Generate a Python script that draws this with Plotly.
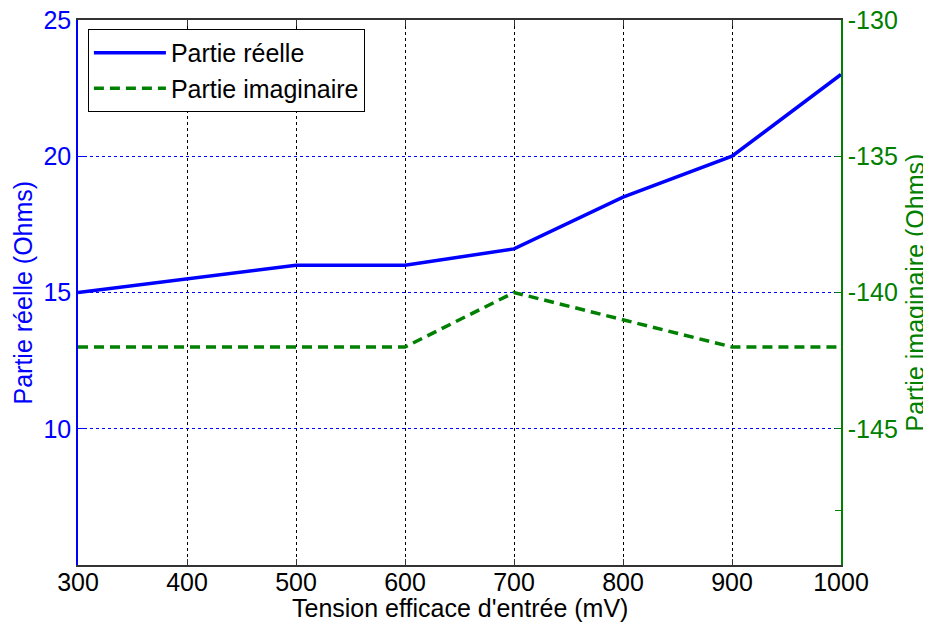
import plotly.graph_objects as go

tension_mv = [300, 400, 500, 600, 700, 800, 900, 1000]
partie_reelle = [15, 15.5, 16, 16, 16.6, 18.5, 20, 23]
partie_imaginaire = [-142, -142, -142, -142, -140, -141, -142, -142]

x_ticks = [300, 400, 500, 600, 700, 800, 900, 1000]
y1_ticks = [10, 15, 20, 25]
y2_ticks = [-148, -145, -140, -135, -130]
y2_ticktext = ["", "-145", "-140", "-135", "-130"]

x_title = "Tension efficace d'entrée (mV)"
y1_title = "Partie réelle (Ohms)"
y2_title = "Partie imaginaire (Ohms)"

FONT = "Liberation Sans, Arial, sans-serif"
BLUE = "#0000ff"
GREEN = "#008000"
FS = 25

fig = go.Figure()
fig.add_trace(go.Scatter(x=tension_mv, y=partie_reelle, mode="lines", name="Partie réelle",
                         line=dict(color=BLUE, width=3.5)))
fig.add_trace(go.Scatter(x=tension_mv, y=partie_imaginaire, mode="lines", name="Partie imaginaire",
                         yaxis="y2", line=dict(color=GREEN, width=3.5, dash="10px,6px")))

fig.update_layout(
    width=923, height=617,
    margin=dict(l=70, r=90, t=12, b=60),
    paper_bgcolor="white", plot_bgcolor="white",
    font=dict(family=FONT, size=FS, color="black"),
    xaxis=dict(range=[300, 1000], tickvals=x_ticks, ticks="inside", ticklen=6, tickcolor="#333",
               showline=True, linecolor="#333", linewidth=1.5, mirror="ticks",
               showgrid=True, gridcolor="black", griddash="3px,3px", gridwidth=1,
               zeroline=False, tickfont=dict(size=FS), automargin=False, ticklabelstandoff=-6,
               ticklabeloverflow="allow"),
    yaxis=dict(range=[5, 25], tickvals=y1_ticks, ticks="inside", ticklen=6, tickcolor=BLUE,
               showline=True, linecolor=BLUE, linewidth=1.5,
               showgrid=True, gridcolor=BLUE, griddash="3px,3px", gridwidth=1,
               zeroline=False, tickfont=dict(size=FS, color=BLUE), automargin=False,
               ticklabeloverflow="allow"),
    yaxis2=dict(range=[-150, -130], tickvals=y2_ticks, ticktext=y2_ticktext, overlaying="y", side="right",
                ticks="inside", ticklen=6, tickcolor=GREEN,
                showline=True, linecolor=GREEN, linewidth=1.5, showgrid=False, zeroline=False,
                tickfont=dict(size=FS, color=GREEN), automargin=False,
                ticklabeloverflow="allow"),
    legend=dict(x=0.013, y=0.9835, xanchor="left", yanchor="top",
                bgcolor="white", bordercolor="black", borderwidth=1,
                font=dict(size=FS), tracegroupgap=0, itemwidth=72),
    showlegend=True,
)

fig.add_annotation(text=x_title, xref="paper", yref="paper", x=0.5, y=0, xanchor="center",
                   yanchor="middle", yshift=-43, showarrow=False, font=dict(size=FS, color="black"))
fig.add_annotation(text=y1_title, xref="paper", yref="paper", x=0, y=0.5, xanchor="center",
                   yanchor="middle", xshift=-56, textangle=-90, showarrow=False,
                   font=dict(size=FS, color=BLUE))
fig.add_annotation(text=y2_title, xref="paper", yref="paper", x=1, y=0.5, xanchor="center",
                   yanchor="middle", xshift=73, textangle=-90, showarrow=False,
                   font=dict(size=FS, color=GREEN))

fig.write_html("out.html")
